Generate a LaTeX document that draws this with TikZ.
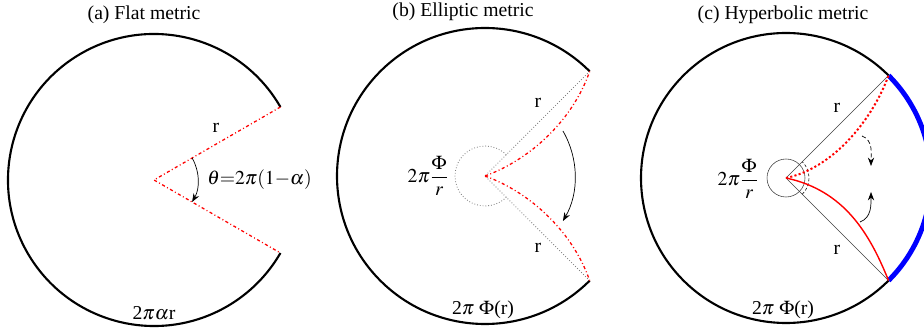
\documentclass[tikz,border=0pt]{standalone}
\usepackage{amsmath}
\usepackage{mathptmx}
\usepackage[no-math]{fontspec}
\setmainfont{Liberation Serif}
\usetikzlibrary{calc,arrows.meta,positioning}

\begin{document}
\begin{tikzpicture}[>={Stealth[length=6pt,width=4.5pt]}, line width=0.8pt, x=0.025cm, y=0.025cm,
    rim/.style={line width=1.5pt},
    cut/.style={red, line width=0.9pt, dash pattern=on 2.2pt off 1.8pt on 0.7pt off 1.8pt},
    guide/.style={gray, line width=0.4pt},
    turn/.style={->, line width=0.5pt},
    lbl/.style={font=\fontsize{14}{16}\selectfont}]
    			\useasboundingbox (0,0) rectangle (924,333);
    			
    			% (a) Flat metric
    			\coordinate (Oa) at (154,153);
    			\def\Ra{146} % Radius of the disc
    			\path (Oa) ++(30:\Ra) coordinate (Aa);
    			\path (Oa) ++(-30:\Ra) coordinate (Ba);
    			\draw[rim] (Aa) arc (30:330:\Ra);
    			\draw[cut] (Aa) -- (Oa) -- (Ba);
    			\draw[turn] (Oa) ++(30:44) arc (30:-30:44);
    			\node[lbl] (ta) at (144,318) {(a) Flat metric};
    			\node[lbl] (ra) at (216,205) {r};
    			\node[lbl, right] (tha) at (202,153) {$\theta{=}2\pi(1{-}\alpha)$};
    			\node[lbl] (la) at (154,20) {2$\pi\alpha$r};
    			
    			% (b) Elliptic metric
    			\coordinate (Ob) at (485,157);
    			\def\Rb{148}
    			\path (Ob) ++(45:\Rb) coordinate (Ab);
    			\path (Ob) ++(-45:\Rb) coordinate (Bb);
    			\draw[rim] (Ab) arc (45:315:\Rb);
    			\draw[guide, line width=0.6pt, dash pattern=on 0.6pt off 1.4pt] (Ab) -- (Ob) -- (Bb);
    			\draw[guide, line width=0.6pt, dash pattern=on 0.6pt off 1.4pt] (Ob) ++(45:30) arc (45:315:30);
    			\draw[cut] (Ob) .. controls +(20:50) and +(251:50) .. (Ab);
    			\draw[cut] (Ob) .. controls +(-20:50) and +(109:50) .. (Bb);
    			\draw[turn] (Ob) ++(30:90) arc (30:-30:90);
    			\node[lbl] (tb) at (463,321) {(b) Elliptic metric};
    			\node[lbl] (rb1) at (538,230) {r};
    			\node[lbl] (rb2) at (538,85) {r};
    			\node[lbl] (fb) at (428,157) {$2\pi\dfrac{\Phi}{r}$};
    			\node[lbl] (lb) at (483,23) {2$\pi$ $\Phi$(r)};
    			
    			% (c) Hyperbolic metric
    			\coordinate (Oc) at (786,155);
    			\def\Rc{145}
    			\path (Oc) ++(45:\Rc) coordinate (Ac);
    			\path (Oc) ++(-45:\Rc) coordinate (Bc);
    			\draw[rim] (Ac) arc (45:315:\Rc);
    			\draw[blue, line width=3.5pt] (Bc) arc (-45:45:\Rc);
    			\draw[guide, darkgray] (Ac) -- (Oc) -- (Bc);
    			\draw[guide, darkgray] (Oc) circle (19);
    			\draw[guide, black, dash pattern=on 2pt off 1.5pt] (Oc) ++(-45:23) arc (-45:45:23);
    			\draw[red, line width=1.4pt, dash pattern=on 1.5pt off 1.6pt] (Oc) .. controls +(12:50) and +(250:45) .. (Ac);
    			\draw[red, line width=1pt] (Oc) .. controls +(-12:60) and +(112:50) .. (Bc);
    			
    			% Bending arrows
    			\coordinate (p1) at (862,197);
    			\coordinate (q1) at (871,167);
    			\coordinate (p2) at (860,111);
    			\coordinate (q2) at (871,141);
    			\draw[turn, dash pattern=on 3pt off 2pt] (p1) to[out=-20, in=90] (q1);
    			\draw[turn] (p2) to[out=20, in=-90] (q2);
    			\node[lbl] (tc) at (783,318) {(c) Hyperbolic metric};
    			\node[lbl] (rc1) at (837,225) {r};
    			\node[lbl] (rc2) at (837,83) {r};
    			\node[lbl] (fc) at (738,154) {$2\pi\dfrac{\Phi}{r}$};
    			\node[lbl] (lc) at (783,23) {2$\pi$ $\Phi$(r)};
    		\end{tikzpicture}
\end{document}
